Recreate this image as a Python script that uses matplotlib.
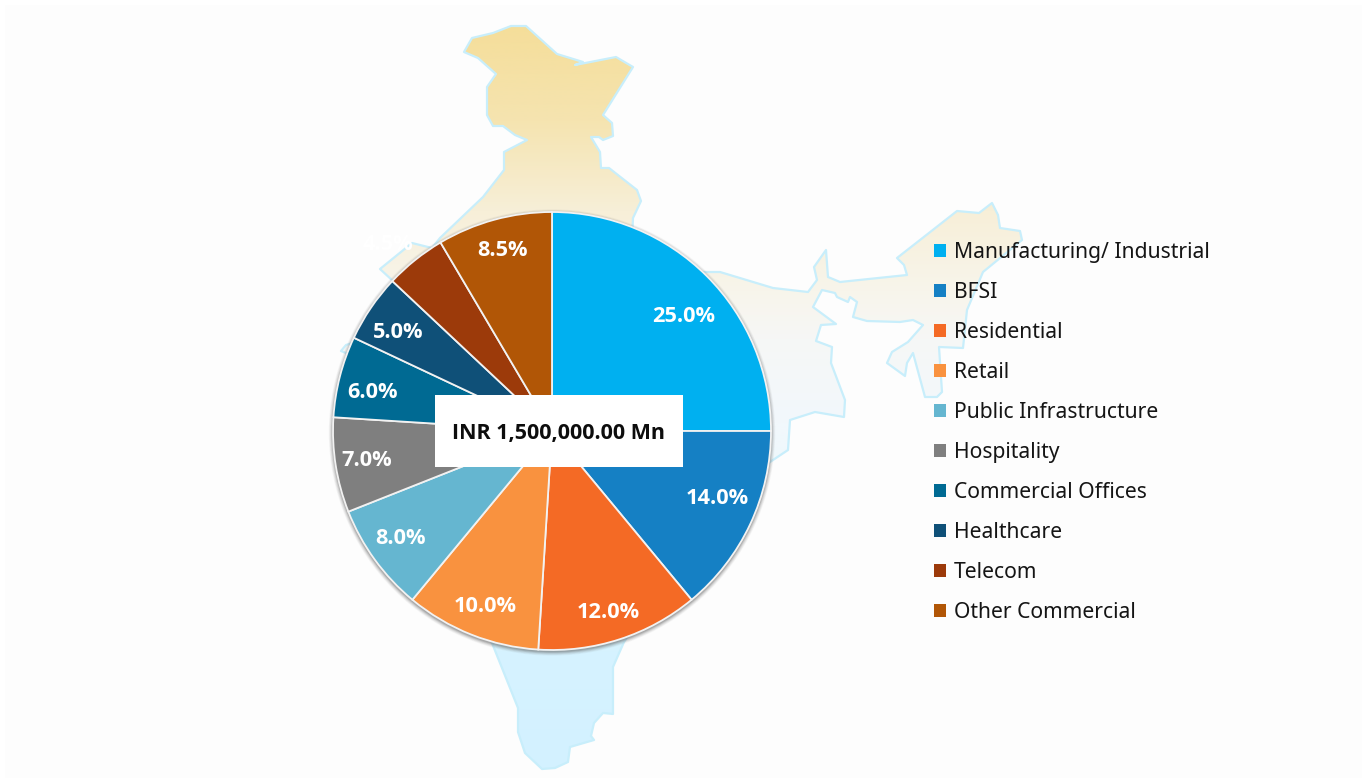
import numpy as np
import matplotlib
matplotlib.use("Agg")
import matplotlib.pyplot as plt
from matplotlib.patches import Polygon, Rectangle, Circle, Patch
from matplotlib.colors import LinearSegmentedColormap

W, H = 1367, 783

categories = ["Manufacturing/ Industrial", "BFSI", "Residential", "Retail",
              "Public Infrastructure", "Hospitality", "Commercial Offices",
              "Healthcare", "Telecom", "Other Commercial"]
values = [25.0, 14.0, 12.0, 10.0, 8.0, 7.0, 6.0, 5.0, 4.5, 8.5]
colors = ["#00B0F0", "#1580C4", "#F46A25", "#F9923F", "#65B6D0",
          "#7F7F7F", "#006A93", "#0F5078", "#9C3A0A", "#B15606"]
center_text = "INR 1,500,000.00 Mn"
label_pos = [(684, 315), (717, 497), (608, 610), (485, 604), (401, 537),
             (367, 458), (372, 390), (398, 330), (388, 243), (503, 249)]

# India outline (picture pixels), clockwise from Kashmir
map_outline = [
    (464, 52), (472, 38), (493, 33), (511, 26), (526, 26), (557, 54), (583, 62), (575, 65),
    (616, 57), (633, 67), (603, 115), (612, 123), (613, 136), (603, 140), (599, 137), (591, 137),
    (600, 152), (601, 168), (609, 168), (637, 190), (641, 201), (633, 218), (632, 240), (660, 272),
    (700, 272), (720, 272), (773, 288), (808, 292), (817, 280), (814, 267), (826, 250), (828, 277),
    (840, 282), (907, 275), (904, 265), (897, 258), (957, 211), (979, 213), (992, 203), (998, 215),
    (1000, 228), (1020, 231), (1022, 240), (983, 272), (967, 310), (963, 348), (939, 347), (942, 392),
    (937, 397), (925, 397), (913, 353), (907, 363), (905, 376), (887, 363), (892, 352), (908, 342),
    (923, 325), (913, 320), (900, 322), (867, 321), (853, 317), (857, 302), (850, 297), (848, 302),
    (837, 297), (835, 293), (822, 290), (813, 307), (836, 324), (821, 325), (816, 341), (832, 347),
    (831, 363), (845, 400), (844, 417), (815, 412), (790, 420), (788, 450), (770, 462), (700, 530),
    (624, 642), (613, 667), (613, 714), (603, 713), (594, 723), (591, 736), (594, 740), (570, 747),
    (568, 762), (555, 768), (542, 769), (525, 753), (518, 732), (518, 708), (492, 643), (440, 540),
    (400, 430), (346, 353), (341, 351), (346, 345), (352, 343), (380, 320), (393, 281), (380, 269),
    (412, 243), (432, 248), (440, 238), (483, 197), (504, 170), (504, 152), (527, 140), (515, 135),
    (503, 126), (493, 126), (487, 115), (487, 87), (496, 74), (478, 58),
]

fig = plt.figure(figsize=(W / 100, H / 100), dpi=100, facecolor="white")
ax = fig.add_axes([0, 0, 1, 1])
ax.set_xlim(0, W)
ax.set_ylim(0, H)
ax.axis("off")


def Y(y):
    return H - y


ax.add_patch(Rectangle((5, 5), W - 10, H - 10, fc="#FDFDFD", ec="none", zorder=0))

# map with vertical gradient
cmap = LinearSegmentedColormap.from_list("m", [
    (0.0, "#F5DE9A"), (0.126, "#F5E4B0"), (0.247, "#F7EFD8"), (0.355, "#F8F5EB"),
    (0.42, "#F6F7F6"), (0.53, "#F2F8FC"), (0.62, "#EDF8FC"), (0.84, "#D6F3FF"), (1.0, "#D3F1FF")])
pts = [(x, Y(y)) for x, y in map_outline]
poly = Polygon(pts, closed=True, fc="none", ec="#C8EEFB", lw=1.6, zorder=2, joinstyle="round")
grad = np.linspace(0, 1, 256)[:, None]
im = ax.imshow(grad, extent=(340, 1025, Y(770), Y(26)), cmap=cmap, aspect="auto",
               origin="upper", zorder=1, interpolation="bilinear")
ax.set_xlim(0, W)
ax.set_ylim(0, H)
clip = Polygon(pts, closed=True, transform=ax.transData, fc="none", ec="none")
ax.add_patch(clip)
im.set_clip_path(clip)
ax.add_patch(poly)

# pie
cx, cy, R = 552, 431, 219
for k, (d, a) in enumerate([(6, 0.05), (5, 0.07), (4, 0.09), (3, 0.12), (2, 0.16), (1, 0.2)]):
    ax.add_patch(Circle((cx, Y(cy + 1.5)), R + d * 0.7, fc="#606060", ec="none", alpha=a, zorder=3))
wedges, _ = ax.pie(values, colors=colors, startangle=90, counterclock=False, center=(cx, Y(cy)),
                   radius=R, frame=False,
                   wedgeprops=dict(edgecolor="#F2F2F2", linewidth=1.3, zorder=4))
ax.set_xlim(0, W)
ax.set_ylim(0, H)
ax.set_aspect("auto")
ax.axis("off")

for v, (x, y) in zip(values, label_pos):
    ax.text(x, Y(y + 2), f"{v:.1f}%", color="white", fontsize=15.7, fontweight="bold",
            family="Open Sans", ha="center", va="center", zorder=6)

ax.add_patch(Rectangle((435, Y(467)), 248, 72, fc="white", ec="none", zorder=5))
ax.text(559, Y(433), center_text, color="#0D0D0D", fontsize=15.45, fontweight="bold",
        family="Open Sans", ha="center", va="center", zorder=6)

handles = [Patch(fc=c, ec="none") for c in colors]
leg = ax.legend(handles, categories, loc="upper left", bbox_to_anchor=(928 / W, 1 - 236 / H),
                frameon=False, prop=dict(family="Noto Sans", size=15.2),
                handlelength=0.56, handleheight=0.56, handletextpad=0.38,
                labelspacing=0.90, labelcolor="#151515", borderpad=0, borderaxespad=0.3)
leg.set_zorder(6)

fig.savefig("out.png", dpi=100, facecolor="white")
